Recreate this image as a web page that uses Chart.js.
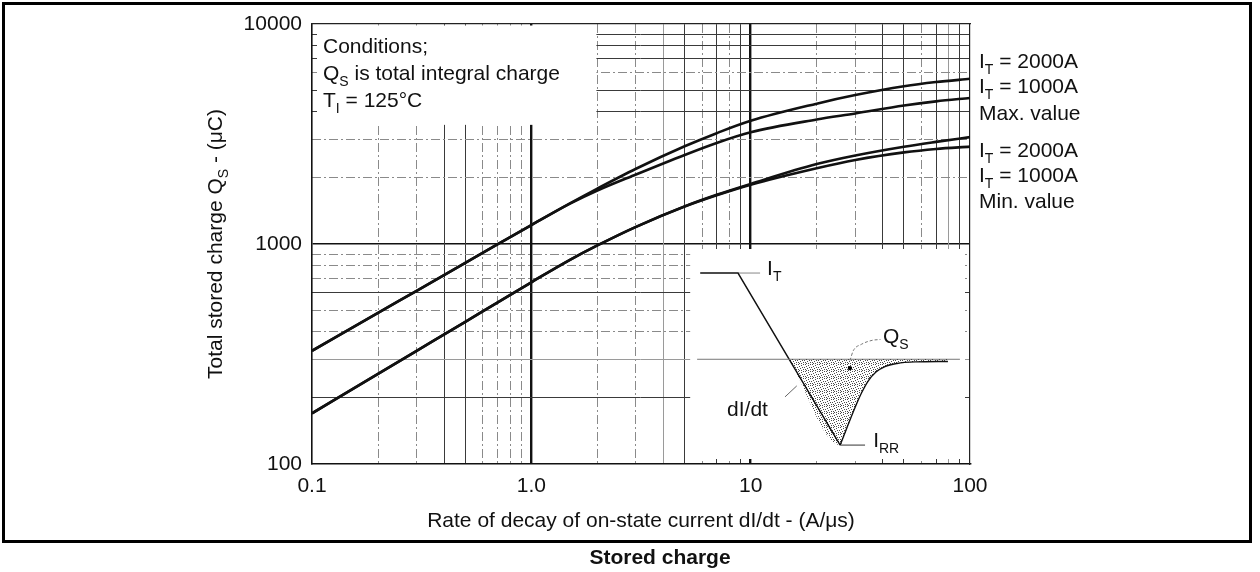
<!DOCTYPE html>
<html>
<head>
<meta charset="utf-8">
<title>Stored charge</title>
<script src="https://cdn.jsdelivr.net/npm/chart.js@4.4.1/dist/chart.umd.min.js"></script>
<style>
  html, body { margin: 0; padding: 0; background: #fff; }
  #wrap { width: 1260px; height: 572px; }
</style>
</head>
<body>
<div id="wrap"><canvas id="qs-chart" width="1260" height="572"></canvas></div>
<script>
// ---- curve values (A/us -> uC) ----
const didt = [0.1, 0.2, 0.3, 0.5, 0.7, 1, 1.5, 2, 3, 5, 7, 10, 20, 30, 50, 70, 100];
const qsMax2000 = [327, 486, 613, 821, 995, 1219, 1530, 1786, 2198, 2780, 3190, 3630, 4345, 4753, 5212, 5445, 5636];
const qsMax1000 = [327, 486, 613, 821, 995, 1219, 1525, 1750, 2070, 2540, 2880, 3220, 3680, 3920, 4260, 4450, 4610];
const qsMin2000 = [170, 257, 327, 443, 542, 670, 847, 985, 1197, 1483, 1674, 1876, 2308, 2525, 2767, 2911, 3060];
const qsMin1000 = [170, 257, 327, 443, 542, 670, 847, 985, 1197, 1480, 1665, 1860, 2210, 2410, 2610, 2705, 2770];

const xTicks = [0.1, 1, 10, 100];
const xTickLabels = ['0.1', '1.0', '10', '100'];
const yTicks = [100, 1000, 10000];
const yTickLabels = ['100', '1000', '10000'];

// the scanned grid mixes solid and dash-dot rules
const xGridSolid = [0.4, 0.5, 4, 5, 7, 9, 40, 50, 70, 80, 90];
const xGridDash = [0.2, 0.3, 0.6, 0.7, 0.8, 0.9, 2, 3, 6, 8, 20, 30, 60];
const yGridSolid = [200, 300, 600, 4000, 5000, 7000, 8000, 9000];
const yGridDash = [400, 500, 700, 800, 900, 2000, 3000, 6000];
const gridLight = [4, 80, 300];

// white panels that hide the grid (data units of the main axes)
const condBox = { x0: 0.1, x1: 1.98, y0: 3480, y1: 10000 };
const insetBox = { x0: 5.3, x1: 100, y0: 100, y1: 1000 };

// inset sketch of the recovery waveform, in arbitrary units (u 0..100, v 0..100)
const waveU = [3.6, 17.1, 53.6, 56.4, 59.3, 61.4, 63.6, 66.4, 69.6, 73.9, 80.4, 92.1];
const waveV = [86.8, 86.8, 8.6, 17.7, 26.8, 32.7, 37.7, 41.8, 44.3, 45.7, 46.4, 46.6];
const zeroU = [2.5, 96.4];
const zeroV = 47.6;
const areaU = [35.4, 53.6, 56.4, 59.3, 61.4, 63.6, 66.4, 69.6, 73.9, 80.4, 92.1];
const areaV = [47.6, 8.6, 17.7, 26.8, 32.7, 37.7, 41.8, 44.3, 45.7, 46.4, 46.6];
const itLeadU = [17.1, 25.0];
const itLeadV = [86.8, 86.8];
const didtLeadU = [33.9, 38.1];
const didtLeadV = [30.5, 35.5];
const irrLeadU = [53.6, 62.5];
const irrLeadV = [8.6, 8.6];
const qsLeadU = [57.1, 58.3, 61.2, 65.0, 68.0];
const qsLeadV = [47.0, 51.5, 54.4, 56.2, 56.6];
const qsDotU = [57.1];
const qsDotV = [43.6];

// inset axis ranges so that u,v 0..100 land in the lower right panel
const INSET_U_MIN = -135.1, INSET_U_MAX = 100;
const INSET_V_MIN = 0, INSET_V_MAX = 200;

const FONT = '"Liberation Sans", Arial, Helvetica, sans-serif';
const FS = 21;

const pts = (xs, ys) => xs.map((v, i) => ({ x: v, y: ys[i] }));

function stipple(ctx) {
    const tile = document.createElement('canvas');
    tile.width = 7; tile.height = 7;
    const g = tile.getContext('2d');
    g.fillStyle = 'rgba(0,0,0,0.7)';
    [[0, 0], [3, 1], [5, 0], [1, 2], [6, 3], [4, 3], [2, 4], [0, 5], [5, 5], [3, 6], [1, 6]]
        .forEach(([a, b]) => g.fillRect(a, b, 1, 1));
    return ctx.createPattern(tile, 'repeat');
}

// draws text pieces; arrays are subscripts
function rich(ctx, parts, x, y) {
    for (const p of parts) {
        const sub = Array.isArray(p);
        const txt = sub ? p[0] : p;
        ctx.font = (sub ? 14 : FS) + 'px ' + FONT;
        ctx.fillText(txt, x, y + (sub ? 6 : 0));
        x += ctx.measureText(txt).width;
    }
    return x;
}
function richWidth(ctx, parts) {
    let w = 0;
    for (const p of parts) {
        const sub = Array.isArray(p);
        ctx.font = (sub ? 14 : FS) + 'px ' + FONT;
        w += ctx.measureText(sub ? p[0] : p).width;
    }
    return w;
}

const curveLabels = [
    { parts: ['I', ['T'], ' = 2000A'], dy: 44 },
    { parts: ['I', ['T'], ' = 1000A'], dy: 69 },
    { parts: ['Max. value'], dy: 96 },
    { parts: ['I', ['T'], ' = 2000A'], dy: 133 },
    { parts: ['I', ['T'], ' = 1000A'], dy: 158 },
    { parts: ['Min. value'], dy: 184 }
];
const condLines = [
    { parts: ['Conditions;'], dy: 29 },
    { parts: ['Q', ['S'], ' is total integral charge'], dy: 56 },
    { parts: ['T', ['I'], ' = 125\u00B0C'], dy: 83 }
];
const insetLabels = [
    { parts: ['I', ['T']], u: 27.5, v: 85.9 },
    { parts: ['Q', ['S']], u: 68.9, v: 55.0 },
    { parts: ['dI/dt'], u: 13.2, v: 21.8 },
    { parts: ['I', ['RR']], u: 65.4, v: 7.7 }
];

const paperPlugin = {
    id: 'paper',
    beforeDatasetsDraw(chart) {
        const { ctx, scales: { x, y } } = chart;
        ctx.save();
        ctx.fillStyle = '#fff';
        // conditions panel, leaves short stubs on the left edge
        let l = x.getPixelForValue(condBox.x0) + 5;
        let r = x.getPixelForValue(condBox.x1);
        let t = y.getPixelForValue(condBox.y1) + 1.5;
        let b = y.getPixelForValue(condBox.y0);
        ctx.fillRect(l, t, r - l, b - t);
        // inset panel, stubs stay on top, bottom and right edges
        l = x.getPixelForValue(insetBox.x0);
        r = x.getPixelForValue(insetBox.x1) - 5;
        t = y.getPixelForValue(insetBox.y1) + 5;
        b = y.getPixelForValue(insetBox.y0) - 5;
        ctx.fillRect(l, t, r - l, b - t);
        ctx.restore();
    },
    afterDraw(chart) {
        const { ctx, chartArea: ca, scales } = chart;
        ctx.save();
        ctx.fillStyle = '#111';
        ctx.textBaseline = 'alphabetic';
        ctx.textAlign = 'left';

        curveLabels.forEach(c => rich(ctx, c.parts, ca.right + 9, ca.top + c.dy));
        condLines.forEach(c => rich(ctx, c.parts, ca.left + 11, ca.top + c.dy));
        insetLabels.forEach(c => rich(ctx, c.parts,
            scales.xi.getPixelForValue(c.u), scales.yi.getPixelForValue(c.v)));

        // axis titles
        ctx.font = FS + 'px ' + FONT;
        ctx.textAlign = 'center';
        ctx.fillText('Rate of decay of on-state current dI/dt - (A/\u03BCs)', (ca.left + ca.right) / 2, ca.bottom + 63);
        ctx.textAlign = 'left';
        const yTitle = ['Total stored charge Q', ['S'], ' - (\u03BCC)'];
        ctx.save();
        ctx.translate(ca.left - 90, (ca.top + ca.bottom) / 2);
        ctx.rotate(-Math.PI / 2);
        rich(ctx, yTitle, -richWidth(ctx, yTitle) / 2, 0);
        ctx.restore();

        // outer frame and caption
        ctx.lineWidth = 3;
        ctx.strokeStyle = '#000';
        ctx.strokeRect(3.5, 3.5, 1247, 538);
        ctx.font = 'bold ' + FS + 'px ' + FONT;
        ctx.textAlign = 'center';
        ctx.fillText('Stored charge', 660, 564);
        ctx.restore();
    }
};

const chartEl = document.getElementById('qs-chart');
const hatch = stipple(chartEl.getContext('2d'));

const curve = (label, ys) => ({
    label, data: pts(didt, ys), xAxisID: 'x', yAxisID: 'y',
    borderColor: '#111', borderWidth: 2.6, pointRadius: 0,
    cubicInterpolationMode: 'monotone', fill: false
});
const sketch = (label, us, vs, extra) => Object.assign({
    label, data: pts(us, vs), xAxisID: 'xi', yAxisID: 'yi',
    borderColor: '#111', borderWidth: 1.4, pointRadius: 0, fill: false, tension: 0
}, extra || {});

const gridAxis = (pos, vals, dash, axis) => ({
    type: 'logarithmic', position: pos,
    min: axis === 'x' ? 0.1 : 100, max: axis === 'x' ? 100 : 10000,
    afterBuildTicks: s => { s.ticks = vals.map(v => ({ value: v })); },
    afterFit: s => { if (axis === 'x') s.height = 0; else s.width = 0; },
    ticks: { display: false },
    grid: {
        drawTicks: false,
        lineWidth: 1,
        color: c => gridLight.includes(c.tick && c.tick.value) ? '#9a9a9a' : (dash ? '#8a8a8a' : '#3a3a3a')
    },
    border: { display: !dash, color: '#222', width: 1.2, dash: dash ? [9, 3, 2, 3] : [] }
});

new Chart(chartEl, {
    type: 'line',
    data: {
        datasets: [
            curve('IT = 2000A max', qsMax2000),
            curve('IT = 1000A max', qsMax1000),
            curve('IT = 2000A min', qsMin2000),
            curve('IT = 1000A min', qsMin1000),
            sketch('area', areaU, areaV, { borderWidth: 0, backgroundColor: hatch, fill: { value: zeroV }, cubicInterpolationMode: 'monotone' }),
            sketch('zero', zeroU, [zeroV, zeroV], { borderColor: '#777', borderWidth: 1 }),
            sketch('wave', waveU.slice(0, 3), waveV.slice(0, 3)),
            sketch('recovery', waveU.slice(2), waveV.slice(2), { cubicInterpolationMode: 'monotone' }),
            sketch('it lead', itLeadU, itLeadV, { borderColor: '#888', borderWidth: 1 }),
            sketch('didt lead', didtLeadU, didtLeadV, { borderColor: '#666', borderWidth: 1 }),
            sketch('irr lead', irrLeadU, irrLeadV, { borderColor: '#333', borderWidth: 1 }),
            sketch('qs lead', qsLeadU, qsLeadV, { borderColor: '#777', borderWidth: 1, borderDash: [3, 2], cubicInterpolationMode: 'monotone' }),
            sketch('qs dot', qsDotU, qsDotV, { showLine: false, pointRadius: 2.2, pointBackgroundColor: '#000', pointBorderWidth: 0 })
        ]
    },
    options: {
        responsive: false,
        animation: false,
        events: [],
        layout: { padding: { left: 0, right: 290, top: 24, bottom: 0 } },
        plugins: { legend: { display: false }, tooltip: { enabled: false } },
        scales: {
            x: {
                type: 'logarithmic', position: 'bottom', min: 0.1, max: 100,
                afterBuildTicks: s => { s.ticks = xTicks.map(v => ({ value: v })); },
                afterFit: s => { s.height = 108; },
                ticks: { autoSkip: false, maxRotation: 0, padding: 10, color: '#111',
                         font: { family: FONT, size: FS },
                         callback: (v, i) => xTickLabels[i] },
                grid: { drawTicks: false, lineWidth: 2.4,
                        color: c => (c.tick && (c.tick.value === 1 || c.tick.value === 10)) ? '#111' : 'rgba(0,0,0,0)' },
                border: { display: true, color: '#111', width: 1.6 }
            },
            y: {
                type: 'logarithmic', position: 'left', min: 100, max: 10000,
                afterBuildTicks: s => { s.ticks = yTicks.map(v => ({ value: v })); },
                afterFit: s => { s.width = 312; },
                ticks: { autoSkip: false, padding: 10, color: '#111',
                         font: { family: FONT, size: FS },
                         callback: (v, i) => yTickLabels[i] },
                grid: { drawTicks: false, lineWidth: 1.6,
                        color: c => (c.tick && c.tick.value === 1000) ? '#111' : 'rgba(0,0,0,0)' },
                border: { display: true, color: '#111', width: 1.6 }
            },
            xs: gridAxis('top', xGridSolid, false, 'x'),
            xd: gridAxis('top', xGridDash, true, 'x'),
            ys: gridAxis('right', yGridSolid, false, 'y'),
            yd: gridAxis('right', yGridDash, true, 'y'),
            xi: { type: 'linear', display: false, min: INSET_U_MIN, max: INSET_U_MAX },
            yi: { type: 'linear', display: false, min: INSET_V_MIN, max: INSET_V_MAX }
        }
    },
    plugins: [paperPlugin]
});
</script>
</body>
</html>
